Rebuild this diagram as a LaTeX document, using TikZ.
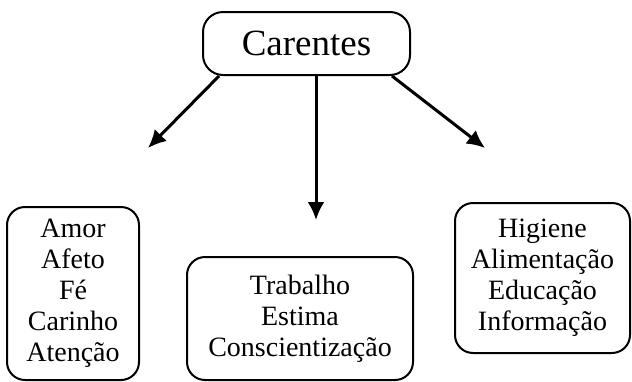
\documentclass[tikz,border=0pt]{standalone}
\usepackage{fontspec}
\setmainfont{Liberation Serif}
\usetikzlibrary{calc}
\usetikzlibrary{arrows.meta}
\tikzstyle{topbox} = [draw, line width=2pt, rounded corners=20pt, minimum width=207pt, minimum height=63pt, align=center, font=\fontsize{37}{40}\selectfont]
\tikzstyle{listbox} = [draw, line width=2pt, rounded corners=18pt, align=center, font=\fontsize{28}{31}\selectfont]
\tikzstyle{arrowline} = [line width=3pt, >={Latex[length=18pt,width=17pt]}, ->]

\begin{document}
\begin{tikzpicture}[x=1pt,y=-1pt]
    \useasboundingbox (0,0) rectangle (632,381);
    \node[topbox] (carentes) at (306.5,43.5) {Carentes};

    \node[listbox, minimum width=132pt, minimum height=173pt] (afetivos) at (73,293.5)
{Amor\\Afeto\\Fé\\Carinho\\Atenção};
    \node[listbox, minimum width=226pt, minimum height=123pt] (sociais) at (300,318.5)
{Trabalho\\Estima\\Conscientização};
    \node[listbox, minimum width=175pt, minimum height=150pt] (basicos) at (542.5,278)
{Higiene\\Alimentação\\Educação\\Informação};

    \coordinate (tip_left) at (148,148);
    \coordinate (tip_mid) at (316,220);
    \coordinate (tip_right) at (485,148);

    \draw[arrowline] ($(carentes.south)+(-87.5,0)$) -- (tip_left);
    \draw[arrowline] ($(carentes.south)+(9.5,0)$) -- (tip_mid);
    \draw[arrowline] ($(carentes.south)+(85.5,0)$) -- (tip_right);
\end{tikzpicture}
\end{document}
